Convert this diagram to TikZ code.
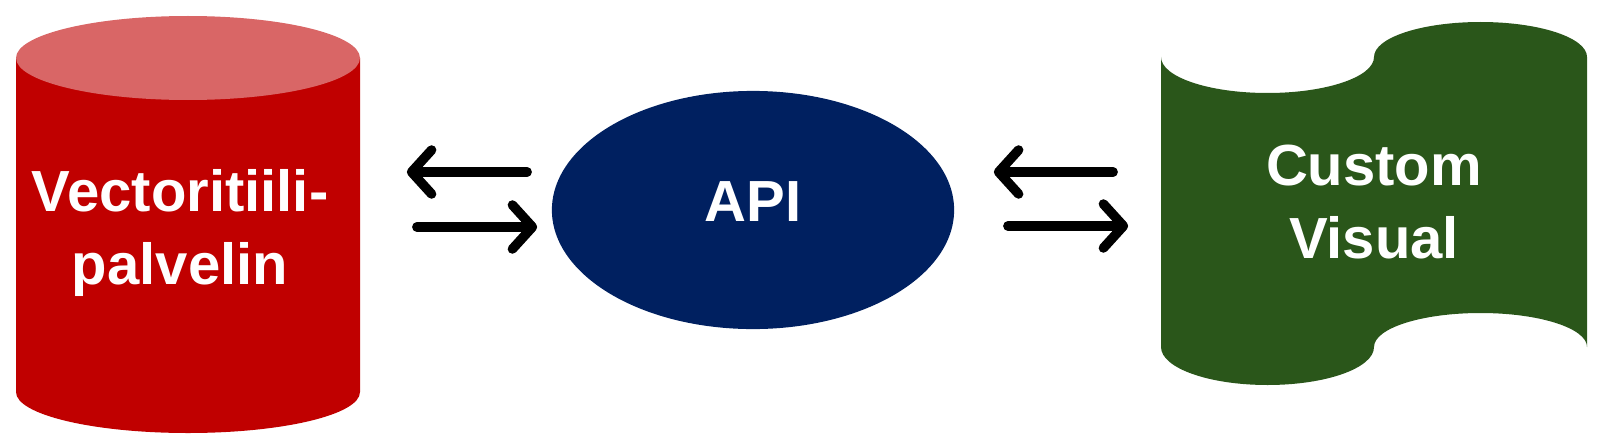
\documentclass[tikz,border=0pt]{standalone}
\usepackage{fontspec}
\setmainfont{Liberation Sans}
\usetikzlibrary{arrows.meta,shapes.geometric}
\definecolor{dbred}{HTML}{C00000}
\definecolor{dbtop}{HTML}{D96666}
\definecolor{apiblue}{HTML}{002060}
\definecolor{visgreen}{HTML}{2A561A}
\begin{document}
\begin{tikzpicture}[x=0.01cm, y=0.01cm,
    boxtext/.style={text=white, font=\bfseries\fontsize{16.5}{20.8}\selectfont, align=center},
    flow/.style={line width=0.095cm, line cap=round, -{Straight Barb[length=0.2cm, width=0.44cm, round]}}]
    \useasboundingbox (0,0) rectangle (1610,442);
    
    \fill [dbred] (16,384) -- (16,50) arc [start angle=180, end angle=360, x radius=172, y radius=41] -- (360,384) -- cycle;
    \fill [dbtop] (188,384) ellipse [x radius=172, y radius=42];
    \fill [visgreen] (1161,385) arc [start angle=180, end angle=360, x radius=106.5, y radius=36]
        arc [start angle=180, end angle=0, x radius=106.5, y radius=35] -- (1587,95)
        arc [start angle=0, end angle=180, x radius=106.5, y radius=34]
        arc [start angle=0, end angle=-180, x radius=106.5, y radius=38] -- cycle;
    
    \node [boxtext, minimum width=3.6cm] (db) at (180,209) {Vectoritiili-\\palvelin};
    \node [boxtext, ellipse, fill=apiblue, minimum width=4.02cm, minimum height=2.38cm, inner sep=0pt, text depth=0.16cm] (api) at (753,232) {API};
    \node [boxtext, minimum width=4.26cm] (vis) at (1374,240) {Custom\\Visual};
    
    \draw [flow, shorten <=0.24cm, shorten >=0.46cm] (api.west |- 0,270) -- (db.east |- 0,270);
    \draw [flow, shorten <=0.56cm, shorten >=0.14cm] (db.east |- 0,215) -- (api.west |- 0,215);
    \draw [flow, shorten <=0.47cm, shorten >=0.39cm] (vis.west |- 0,270) -- (api.east |- 0,270);
    \draw [flow, shorten <=0.53cm, shorten >=0.32cm] (api.east |- 0,216) -- (vis.west |- 0,216);
    
\end{tikzpicture}
\end{document}
